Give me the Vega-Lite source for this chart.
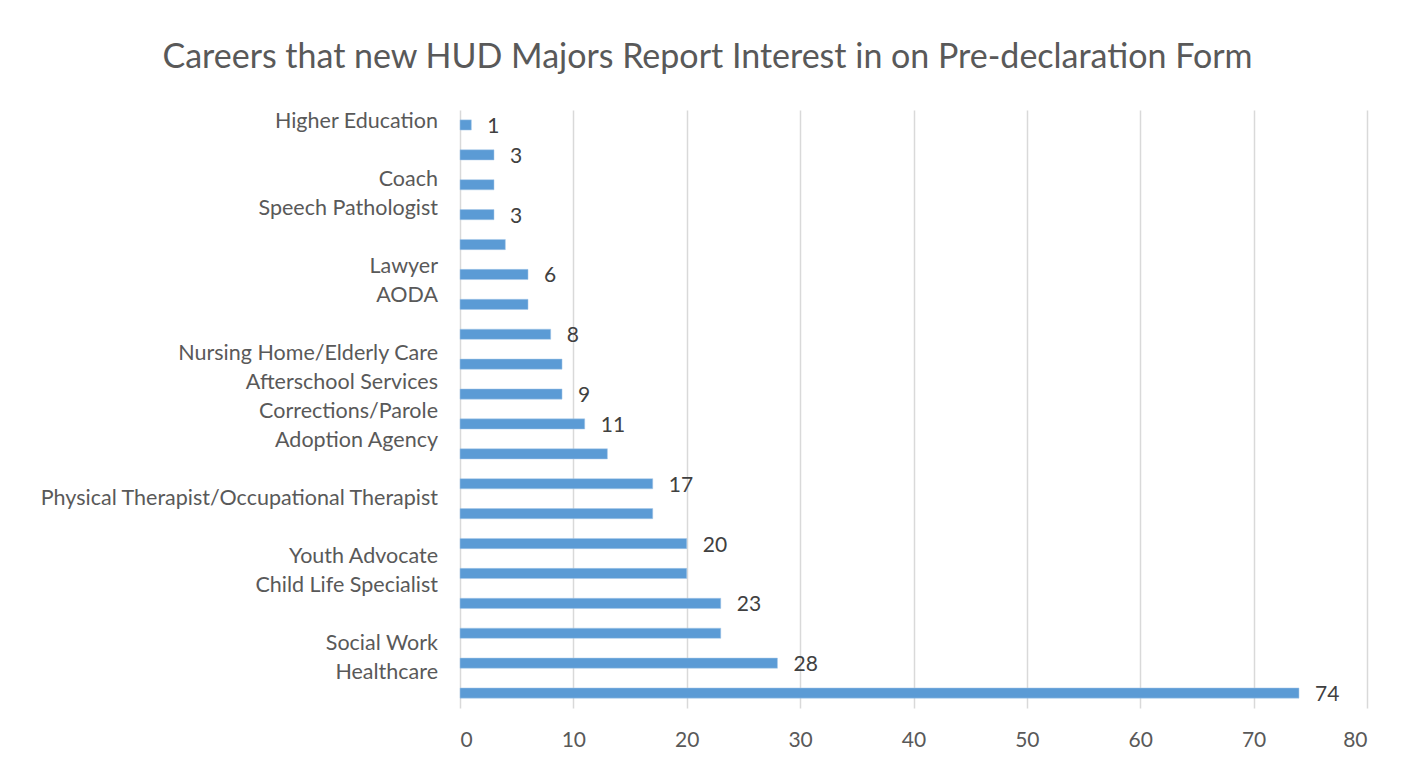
{
  "$schema": "https://vega.github.io/schema/vega-lite/v6.json",
  "width": 907,
  "height": 598,
  "autosize": {"type": "none"},
  "padding": {"left": 460, "top": 110, "right": 46, "bottom": 56},
  "background": "white",
  "config": {"view": {"stroke": null}, "font": "Lato"},
  "title": {
    "text": "Careers that new HUD Majors Report Interest in on Pre-declaration Form",
    "font": "Lato",
    "fontSize": 34,
    "fontWeight": "normal",
    "color": "#595959",
    "anchor": "middle",
    "dx": -206,
    "offset": 35
  },
  "datasets": {
    "bars": [
      {"rank": 1, "count": 1, "labelled": true},
      {"rank": 2, "count": 3, "labelled": true},
      {"rank": 3, "count": 3, "labelled": false},
      {"rank": 4, "count": 3, "labelled": true},
      {"rank": 5, "count": 4, "labelled": false},
      {"rank": 6, "count": 6, "labelled": true},
      {"rank": 7, "count": 6, "labelled": false},
      {"rank": 8, "count": 8, "labelled": true},
      {"rank": 9, "count": 9, "labelled": false},
      {"rank": 10, "count": 9, "labelled": true},
      {"rank": 11, "count": 11, "labelled": true},
      {"rank": 12, "count": 13, "labelled": false},
      {"rank": 13, "count": 17, "labelled": true},
      {"rank": 14, "count": 17, "labelled": false},
      {"rank": 15, "count": 20, "labelled": true},
      {"rank": 16, "count": 20, "labelled": false},
      {"rank": 17, "count": 23, "labelled": true},
      {"rank": 18, "count": 23, "labelled": false},
      {"rank": 19, "count": 28, "labelled": true},
      {"rank": 20, "count": 74, "labelled": true}
    ],
    "careers": [
      {"slot": 0, "career": "Higher Education"},
      {"slot": 1, "career": ""},
      {"slot": 2, "career": "Coach"},
      {"slot": 3, "career": "Speech Pathologist"},
      {"slot": 4, "career": ""},
      {"slot": 5, "career": "Lawyer"},
      {"slot": 6, "career": "AODA"},
      {"slot": 7, "career": ""},
      {"slot": 8, "career": "Nursing Home/Elderly Care"},
      {"slot": 9, "career": "Afterschool Services"},
      {"slot": 10, "career": "Corrections/Parole"},
      {"slot": 11, "career": "Adoption Agency"},
      {"slot": 12, "career": ""},
      {"slot": 13, "career": "Physical Therapist/Occupational Therapist"},
      {"slot": 14, "career": ""},
      {"slot": 15, "career": "Youth Advocate"},
      {"slot": 16, "career": "Child Life Specialist"},
      {"slot": 17, "career": ""},
      {"slot": 18, "career": "Social Work"},
      {"slot": 19, "career": "Healthcare"},
      {"slot": 20, "career": ""}
    ]
  },
  "layer": [
    {
      "data": {"name": "bars"},
      "encoding": {
        "y": {"field": "rank", "type": "ordinal", "scale": {"paddingInner": 0.66, "paddingOuter": 0.33}, "axis": null},
        "x": {
          "field": "count",
          "type": "quantitative",
          "scale": {"domain": [0, 80], "nice": false},
          "axis": {
            "title": null,
            "values": [0, 10, 20, 30, 40, 50, 60, 70, 80],
            "grid": true,
            "gridColor": "#d9d9d9",
            "gridWidth": 1.5,
            "domain": false,
            "ticks": false,
            "labelFont": "Lato",
            "labelFontSize": 21,
            "labelColor": "#595959",
            "labelPadding": 21
          }
        }
      },
      "layer": [
        {"mark": {"type": "bar", "color": "#5b9bd5", "stroke": "#a9c8e8", "strokeWidth": 0.5}},
        {
          "transform": [{"filter": "datum.labelled"}],
          "mark": {"type": "text", "align": "left", "baseline": "middle", "dx": 16, "dy": 2, "font": "Lato", "fontSize": 21, "color": "#404040"},
          "encoding": {"text": {"field": "count", "type": "quantitative"}}
        }
      ]
    },
    {
      "data": {"name": "careers"},
      "mark": {"type": "text", "align": "right", "baseline": "middle", "dx": -22, "dy": 3, "font": "Lato", "fontSize": 21.5, "color": "#595959"},
      "encoding": {
        "y": {"field": "slot", "type": "ordinal", "scale": {"type": "point", "padding": 0.3}, "axis": null},
        "x": {"datum": 0, "type": "quantitative"},
        "text": {"field": "career", "type": "nominal"}
      }
    }
  ],
  "resolve": {"scale": {"y": "independent"}}
}
